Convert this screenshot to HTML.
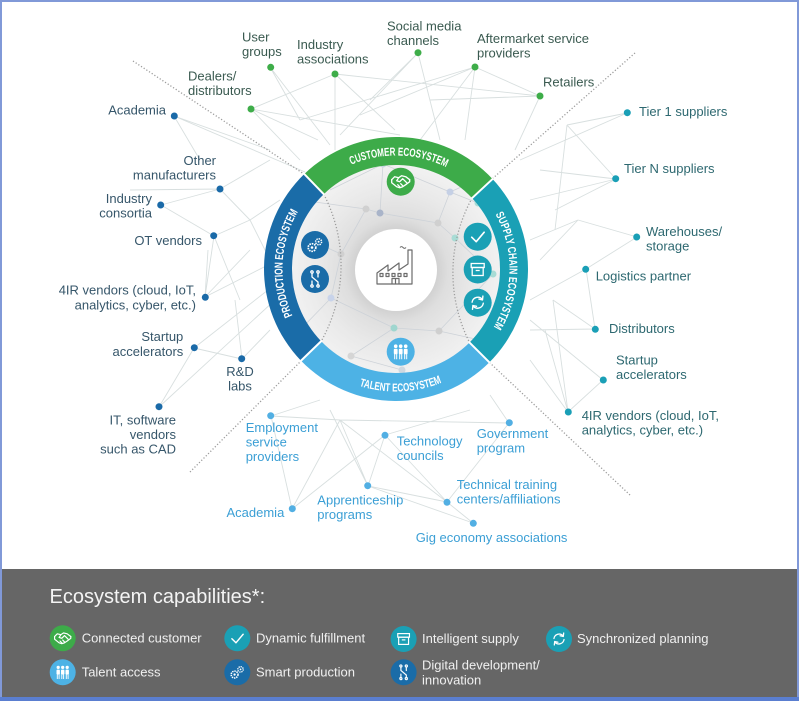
<!DOCTYPE html>
<html><head><meta charset="utf-8">
<style>
html,body{margin:0;padding:0;background:#fff;}
svg{display:block;}
text{font-family:"Liberation Sans",sans-serif;}
</style></head><body>
<svg width="799" height="701" viewBox="0 0 799 701" xmlns="http://www.w3.org/2000/svg">
<defs>
<radialGradient id="disk" cx="396" cy="270" r="104" gradientUnits="userSpaceOnUse">
<stop offset="0.36" stop-color="#cdcdcd"/>
<stop offset="0.5" stop-color="#dedede"/>
<stop offset="0.75" stop-color="#e9e9e9"/>
<stop offset="1" stop-color="#f1f1f1"/>
</radialGradient>
<clipPath id="dclip"><circle cx="396" cy="269" r="104"/></clipPath>
<g id="i-hand" fill="none" stroke="#fff" stroke-width="1.3" stroke-linejoin="round" stroke-linecap="round">
<path d="M-9,-2 L-6,-5 L-2,-4 L1,-6 L5,-5 L9,-2"/>
<path d="M-9,-2 L-9,1 L-4,5 L-1,6 L2,5 L5,3 L9,0 L9,-2"/>
<path d="M-2,-4 L-4,-1 L-1,0 L2,-3 L6,1"/>
<path d="M-3,3 L-1,5 M0,2 L2,4"/>
</g>
<g id="i-check" fill="none" stroke="#fff" stroke-width="1.6" stroke-linecap="round" stroke-linejoin="round">
<path d="M-6,0.5 L-1.5,5 L6.5,-4.5"/>
</g>
<g id="i-box" fill="none" stroke="#fff" stroke-width="1.3">
<rect x="-6.5" y="-6" width="13" height="4"/>
<rect x="-5.5" y="-2" width="11" height="8"/>
<line x1="-2" y1="1" x2="2" y2="1"/>
</g>
<g id="i-sync" fill="none" stroke="#fff" stroke-width="1.4" stroke-linecap="round" stroke-linejoin="round">
<path d="M-5.6,-0.5 A5.8,5.8 0 0 1 4.6,-3.4"/>
<path d="M5.6,0.5 A5.8,5.8 0 0 1 -4.6,3.4"/>
<path d="M5.2,-6.6 L4.8,-2.8 L1.2,-3.6"/>
<path d="M-5.2,6.6 L-4.8,2.8 L-1.2,3.6"/>
</g>
<g id="i-gear" fill="none" stroke="#fff">
<circle cx="-3" cy="2.5" r="3.8" stroke-width="1.7" stroke-dasharray="1.6 0.9"/>
<circle cx="-3" cy="2.5" r="1.3" fill="#fff" stroke="none"/>
<circle cx="3.6" cy="-3.2" r="3" stroke-width="1.5" stroke-dasharray="1.4 0.9"/>
<circle cx="3.6" cy="-3.2" r="1" fill="#fff" stroke="none"/>
</g>
<g id="i-circ" fill="none" stroke="#fff" stroke-width="1.3" stroke-linecap="round">
<path d="M-3,-6 V-2 L3,3 V6 M3,-6 V-2 M-3,6 V2"/>
<circle cx="-3" cy="-7" r="1.2"/><circle cx="3" cy="-7" r="1.2"/>
<circle cx="-3" cy="7" r="1.2"/><circle cx="3" cy="7" r="1.2"/>
</g>
<g id="i-ppl" fill="#fff">
<circle cx="-5" cy="-5.5" r="1.8"/><circle cx="0" cy="-5.5" r="1.8"/><circle cx="5" cy="-5.5" r="1.8"/>
<rect x="-6.9" y="-3" width="3.8" height="5.5" rx="1"/>
<rect x="-1.9" y="-3" width="3.8" height="5.5" rx="1"/>
<rect x="3.1" y="-3" width="3.8" height="5.5" rx="1"/>
<path d="M-6,2 V7.5 M-4,2 V7.5 M-1,2 V7.5 M1,2 V7.5 M4,2 V7.5 M6,2 V7.5" stroke="#fff" stroke-width="1"/>
</g>
</defs>

<rect x="0" y="0" width="799" height="701" fill="#fff"/>

<!-- outer network lines -->
<g stroke="#d8dfdf" stroke-width="0.9" fill="none">
<path d="M251,109 L335,74 M251,109 L318,140 M251,109 L300,160 M270,67 L330,145 M270,67 L300,120 M335,74 L540,96 M335,74 L335,150 M335,74 L395,130 M418,53 L340,135 M418,53 L440,140 M418,53 L370,100 M475,67 L540,96 M475,67 L360,115 M475,67 L465,140 M475,67 L420,140 M540,96 L515,150 M540,96 L430,100 M300,120 L475,67 M251,109 L400,135"/>
<path d="M174,116 L270,150 M174,116 L200,160 M174,116 L305,172 M220,189 L270,160 M220,189 L161,205 M220,189 L250,220 M220,189 L130,190 M161,205 L214,236 M214,236 L250,220 M214,236 L205,297 M214,236 L240,300 M250,220 L280,200 M250,220 L270,260 M205,297 L268,265 M205,297 L250,250 M194,348 L242,359 M194,348 L268,290 M159,407 L275,300 M159,407 L194,348 M242,359 L235,300 M242,359 L270,330 M205,297 L208,250"/>
<path d="M627,113 L567,125 M627,113 L520,160 M567,125 L616,179 M567,125 L555,230 M616,179 L530,200 M616,179 L555,210 M616,179 L540,170 M637,237 L578,220 M637,237 L586,269 M578,220 L540,260 M586,269 L595,329 M586,269 L530,300 M595,329 L553,300 M595,329 L530,330 M603,380 L530,320 M603,380 L568,412 M568,412 L545,330 M568,412 L530,360 M553,300 L568,412 M578,220 L530,240"/>
<path d="M271,416 L340,420 M271,416 L292,509 M271,416 L320,400 M340,420 L368,486 M340,420 L447,502 M340,420 L509,423 M385,435 L368,486 M385,435 L447,502 M385,435 L470,410 M368,486 L447,502 M368,486 L473,523 M292,509 L385,435 M292,509 L340,420 M509,423 L447,502 M509,423 L490,395 M447,502 L473,523 M368,486 L330,410"/>
</g>

<!-- outer dotted diagonals -->
<g stroke="#9c9c9c" stroke-width="1.3" stroke-dasharray="1.2 2" fill="none">
<line x1="133" y1="61" x2="304" y2="174"/>
<line x1="635" y1="53" x2="492" y2="179"/>
<line x1="630" y1="495" x2="489" y2="362"/>
<line x1="190" y1="472" x2="301" y2="361"/>
</g>

<!-- inner disk -->
<circle cx="396" cy="269" r="105" fill="url(#disk)"/>
<g clip-path="url(#dclip)">
<g stroke="#cdd2d8" stroke-width="0.8" fill="none">
<path d="M383,164 L450,192 M383,164 L380,213 M380,213 L366,209 M366,209 L341,254 M450,192 L478,203 M450,192 L438,223 M438,223 L455,238 M455,238 L493,274 M341,254 L331,298 M331,298 L394,328 M394,328 L439,331 M439,331 L493,274 M394,328 L351,356 M351,356 L402,370 M300,200 L366,209 M380,213 L438,223 M310,240 L341,254 M331,298 L300,330 M439,331 L480,340 M383,164 L330,190 M450,192 L500,170"/>
</g>
<g>
<circle cx="383" cy="164" r="3.5" fill="#c8d6e4"/>
<circle cx="380" cy="213" r="3.5" fill="#a9b4c9"/>
<circle cx="366" cy="209" r="3.5" fill="#d0d0d0"/>
<circle cx="450" cy="192" r="3.5" fill="#c5d0e5"/>
<circle cx="478" cy="203" r="3.5" fill="#a8dcd5"/>
<circle cx="455" cy="238" r="3.5" fill="#a8dcd5"/>
<circle cx="493" cy="274" r="3.5" fill="#a8dcd5"/>
<circle cx="438" cy="223" r="3.5" fill="#d0d0d0"/>
<circle cx="341" cy="254" r="3.5" fill="#d0d0d0"/>
<circle cx="331" cy="298" r="3.5" fill="#c8d3ea"/>
<circle cx="394" cy="328" r="3.5" fill="#9fd6cf"/>
<circle cx="439" cy="331" r="3.5" fill="#cfcfcf"/>
<circle cx="351" cy="356" r="3.5" fill="#d5d5d5"/>
<circle cx="402" cy="370" r="3.5" fill="#cfd8e0"/>
</g>
<g stroke="#9c9c9c" stroke-width="1.3" stroke-dasharray="1.2 2" fill="none">
<path d="M323.75,194.19 A155,155 0 0 1 321.19,341.25"/>
<path d="M472.07,198.07 A155,155 0 0 0 469.54,342.54"/>
</g>
</g>

<!-- center -->
<circle cx="396" cy="270" r="41" fill="#fff"/>
<g fill="none" stroke="#6b6b6b" stroke-width="1.2" stroke-linejoin="round">
<path d="M377,284 V273 L388,265 V271 L399,263 V270 L408,264 V250 H412 V284 Z"/>
<rect x="380" y="273.5" width="3" height="3"/>
<rect x="386" y="273.5" width="3" height="3"/>
<rect x="392" y="273.5" width="3" height="3"/>
<rect x="398" y="273.5" width="3" height="3"/>
<rect x="404" y="273.5" width="3" height="3"/>
<path d="M392,284 V278.5 H399 V284 M395.5,278.5 V284"/>
<path d="M400,247.5 q1.5,-1.8 3,0 t3,0" stroke-width="1"/>
</g>

<!-- ring -->
<path d="M304.30,174.05 A132,132 0 0 1 492.54,178.98 L472.07,198.07 A104,104 0 0 0 323.75,194.19 Z" fill="#3dab49"/>
<path d="M492.54,178.98 A132,132 0 0 1 489.34,362.34 L469.54,342.54 A104,104 0 0 0 472.07,198.07 Z" fill="#1aa0b5"/>
<path d="M489.34,362.34 A132,132 0 0 1 301.05,360.70 L321.19,341.25 A104,104 0 0 0 469.54,342.54 Z" fill="#4db2e5"/>
<path d="M301.05,360.70 A132,132 0 0 1 304.30,174.05 L323.75,194.19 A104,104 0 0 0 321.19,341.25 Z" fill="#1a6ca8"/>
<g stroke="#fff" stroke-width="2">
<line x1="303.6" y1="173.3" x2="324.5" y2="194.9"/>
<line x1="493.3" y1="178.3" x2="471.3" y2="198.8"/>
<line x1="490.1" y1="363.1" x2="468.8" y2="341.8"/>
<line x1="300.3" y1="361.4" x2="321.9" y2="340.5"/>
</g>
<path id="tp-top" d="M317.15,187.36 A113.5,113.5 0 0 1 479.01,191.59" fill="none"/>
<path id="tp-right" d="M479.01,191.59 A113.5,113.5 0 0 1 476.26,349.26" fill="none"/>
<path id="tp-bot" d="M307.89,354.10 A122.5,122.5 0 0 0 482.62,355.62" fill="none"/>
<path id="tp-left" d="M314.36,347.85 A113.5,113.5 0 0 1 317.15,187.36" fill="none"/>
<g fill="#fff" font-weight="bold" font-size="11.5">
<text><textPath href="#tp-top" startOffset="41" textLength="98" lengthAdjust="spacingAndGlyphs">CUSTOMER ECOSYSTEM</textPath></text>
<text><textPath href="#tp-right" startOffset="28" textLength="118" lengthAdjust="spacingAndGlyphs">SUPPLY CHAIN ECOSYSTEM</textPath></text>
<text><textPath href="#tp-bot" startOffset="61" textLength="84" lengthAdjust="spacingAndGlyphs">TALENT ECOSYSTEM</textPath></text>
<text><textPath href="#tp-left" startOffset="39" textLength="108" lengthAdjust="spacingAndGlyphs">PRODUCTION ECOSYSTEM</textPath></text>
</g>

<!-- ring icons -->
<circle cx="400.7" cy="181.7" r="14" fill="#3dab49"/><use href="#i-hand" x="400.7" y="181.7"/>
<circle cx="315" cy="245" r="14" fill="#1a6ca8"/><use href="#i-gear" x="315" y="245"/>
<circle cx="315" cy="279" r="14" fill="#1a6ca8"/><use href="#i-circ" x="315" y="279"/>
<circle cx="477.7" cy="236.7" r="14" fill="#1aa0b5"/><use href="#i-check" x="477.7" y="236.7"/>
<circle cx="477.7" cy="269.5" r="14" fill="#1aa0b5"/><use href="#i-box" x="477.7" y="269.5"/>
<circle cx="477.7" cy="302.7" r="14" fill="#1aa0b5"/><use href="#i-sync" x="477.7" y="302.7"/>
<circle cx="400.7" cy="351.7" r="14" fill="#4db2e5"/><use href="#i-ppl" x="400.7" y="351.7"/>

<!-- node dots -->
<g fill="#3ead49">
<circle cx="270.7" cy="67.3" r="3.5"/><circle cx="335" cy="74" r="3.5"/><circle cx="418" cy="52.7" r="3.5"/>
<circle cx="475" cy="67" r="3.5"/><circle cx="540" cy="96" r="3.5"/><circle cx="251" cy="109" r="3.5"/>
</g>
<g fill="#1a6aa8">
<circle cx="174.3" cy="116" r="3.5"/><circle cx="220" cy="189" r="3.5"/><circle cx="160.7" cy="205" r="3.5"/>
<circle cx="213.7" cy="235.7" r="3.5"/><circle cx="205.3" cy="297.3" r="3.5"/><circle cx="194.3" cy="347.7" r="3.5"/>
<circle cx="241.7" cy="358.7" r="3.5"/><circle cx="159" cy="406.7" r="3.5"/>
</g>
<g fill="#1a9fb6">
<circle cx="627.3" cy="112.7" r="3.5"/><circle cx="615.7" cy="178.7" r="3.5"/><circle cx="636.7" cy="237" r="3.5"/>
<circle cx="585.7" cy="269.3" r="3.5"/><circle cx="595.3" cy="329.3" r="3.5"/><circle cx="603.3" cy="380" r="3.5"/>
<circle cx="568.3" cy="412" r="3.5"/>
</g>
<g fill="#52afe3">
<circle cx="270.7" cy="415.7" r="3.5"/><circle cx="385" cy="435.3" r="3.5"/><circle cx="509.3" cy="422.7" r="3.5"/>
<circle cx="367.7" cy="485.7" r="3.5"/><circle cx="447" cy="502.3" r="3.5"/><circle cx="292.3" cy="508.7" r="3.5"/>
<circle cx="473.3" cy="523.3" r="3.5"/>
</g>

<!-- labels: customer -->
<g font-size="13" fill="#3a5a50">
<text x="242" y="41.5">User</text><text x="242" y="56">groups</text>
<text x="297" y="48.8">Industry</text><text x="297" y="63.3">associations</text>
<text x="387" y="30.5">Social media</text><text x="387" y="45">channels</text>
<text x="477" y="43">Aftermarket service</text><text x="477" y="57.5">providers</text>
<text x="543" y="86.5">Retailers</text>
<text x="188" y="80.5">Dealers/</text><text x="188" y="95">distributors</text>
</g>
<!-- labels: production -->
<g font-size="13" fill="#36566a" text-anchor="end">
<text x="166" y="114.5">Academia</text>
<text x="216" y="165">Other</text><text x="216" y="179.5">manufacturers</text>
<text x="152" y="203">Industry</text><text x="152" y="217.5">consortia</text>
<text x="202" y="245">OT vendors</text>
<text x="196" y="294.5">4IR vendors (cloud, IoT,</text><text x="196" y="309.5">analytics, cyber, etc.)</text>
<text x="183.3" y="341.2">Startup</text><text x="183.3" y="356">accelerators</text>
<text x="240" y="376.2" text-anchor="middle">R&amp;D</text><text x="240" y="390.7" text-anchor="middle">labs</text>
<text x="176" y="424.5">IT, software</text><text x="176" y="439">vendors</text><text x="176" y="453.5">such as CAD</text>
</g>
<!-- labels: supply -->
<g font-size="13" fill="#2d6870">
<text x="639" y="116.2">Tier 1 suppliers</text>
<text x="624" y="173">Tier N suppliers</text>
<text x="646" y="236.2">Warehouses/</text><text x="646" y="250.7">storage</text>
<text x="595.7" y="280.5">Logistics partner</text>
<text x="609" y="332.8">Distributors</text>
<text x="616" y="364.5">Startup</text><text x="616" y="379">accelerators</text>
<text x="581.7" y="420">4IR vendors (cloud, IoT,</text><text x="581.7" y="434.5">analytics, cyber, etc.)</text>
</g>
<!-- labels: talent -->
<g font-size="13" fill="#3b9fd5">
<text x="245.7" y="432.2">Employment</text><text x="245.7" y="446.7">service</text><text x="245.7" y="461.2">providers</text>
<text x="396.7" y="445.5">Technology</text><text x="396.7" y="460">councils</text>
<text x="476.7" y="437.8">Government</text><text x="476.7" y="452.3">program</text>
<text x="317.3" y="504.5">Apprenticeship</text><text x="317.3" y="519">programs</text>
<text x="456.7" y="488.8">Technical training</text><text x="456.7" y="503.3">centers/affiliations</text>
<text x="284.3" y="516.8" text-anchor="end">Academia</text>
<text x="415.7" y="542.2">Gig economy associations</text>
</g>

<!-- legend -->
<rect x="0" y="569" width="799" height="132" fill="#666666"/>
<text x="49.5" y="603" font-size="20" fill="#f4f4f4">Ecosystem capabilities*:</text>
<g>
<circle cx="62.7" cy="638.3" r="13" fill="#3dab49"/><use href="#i-hand" transform="translate(62.7,638.3) scale(0.9)"/>
<circle cx="237.3" cy="638.3" r="13" fill="#1aa0b5"/><use href="#i-check" transform="translate(237.3,638.3) scale(0.9)"/>
<circle cx="403.6" cy="639" r="13" fill="#1aa0b5"/><use href="#i-box" transform="translate(403.6,639) scale(0.9)"/>
<circle cx="559" cy="639" r="13" fill="#1aa0b5"/><use href="#i-sync" transform="translate(559,639) scale(0.9)"/>
<circle cx="62.7" cy="672.3" r="13" fill="#4db2e5"/><use href="#i-ppl" transform="translate(62.7,672.3) scale(0.9)"/>
<circle cx="237.3" cy="672.3" r="13" fill="#1a6ca8"/><use href="#i-gear" transform="translate(237.3,672.3) scale(0.9)"/>
<circle cx="403.6" cy="672.3" r="13" fill="#1a6ca8"/><use href="#i-circ" transform="translate(403.6,672.3) scale(0.9)"/>
</g>
<g font-size="13" fill="#f0f0f0">
<text x="81.7" y="642.5">Connected customer</text>
<text x="256" y="642.5">Dynamic fulfillment</text>
<text x="422" y="643">Intelligent supply</text>
<text x="577" y="643">Synchronized planning</text>
<text x="81.7" y="676.5">Talent access</text>
<text x="256" y="676.5">Smart production</text>
<text x="422" y="669.5">Digital development/</text>
<text x="422" y="684.5">innovation</text>
</g>

<!-- frame -->
<rect x="0" y="0" width="799" height="2" fill="#8199d8"/>
<rect x="0" y="0" width="2" height="701" fill="#8199d8"/>
<rect x="797" y="0" width="2" height="701" fill="#8199d8"/>
<rect x="0" y="697" width="799" height="4" fill="#5a7ed0"/>
</svg>
</body></html>
